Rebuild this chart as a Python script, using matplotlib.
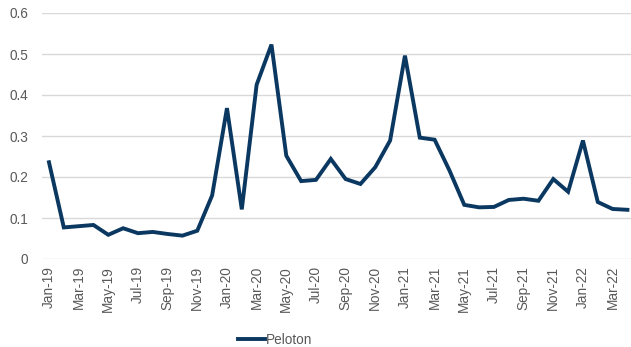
import matplotlib
matplotlib.use("Agg")
import matplotlib.pyplot as plt
import pandas as pd

# Monthly series, Jan-2019 to Apr-2022
months = pd.date_range("2019-01-01", "2022-04-01", freq="MS")
peloton = [
    0.236, 0.077, 0.080, 0.083, 0.059, 0.075, 0.063, 0.066, 0.061, 0.057, 0.069, 0.155,
    0.368, 0.121, 0.425, 0.523, 0.252, 0.190, 0.193, 0.244, 0.195, 0.183, 0.224, 0.289,
    0.496, 0.296, 0.291, 0.216, 0.132, 0.126, 0.127, 0.144, 0.147, 0.142, 0.195, 0.164,
    0.289, 0.139, 0.122, 0.120,
]
tick_labels = [m.strftime("%b-%y") for m in months]
y_ticks = [0, 0.1, 0.2, 0.3, 0.4, 0.5, 0.6]
y_tick_labels = ["0", "0.1", "0.2", "0.3", "0.4", "0.5", "0.6"]

plt.rcParams["font.family"] = ["Liberation Sans", "DejaVu Sans"]

fig = plt.figure(figsize=(6.31, 3.47), dpi=100)
ax = fig.add_axes([42 / 631, 1 - 259 / 347, 589 / 631, 246 / 347])

x = list(range(len(peloton)))
ax.plot(x, peloton, color="#0b3861", linewidth=2.8, solid_joinstyle="miter",
        label="Peloton")

ax.set_xlim(-0.47, 39.24)
ax.set_ylim(0, 0.6)
ax.set_yticks(y_ticks)
ax.set_yticklabels(y_tick_labels)
ax.set_xticks(x[::2])
ax.set_xticklabels(tick_labels[::2], rotation=90)

ax.grid(axis="y", color="#d9d9d9", linewidth=1.0)
ax.set_axisbelow(True)
for s in ax.spines.values():
    s.set_visible(False)
ax.tick_params(axis="both", length=0, colors="#595959", labelsize=9.8)
ax.tick_params(axis="y", pad=10)
ax.tick_params(axis="x", pad=5)

fig.legend(loc="lower center", bbox_to_anchor=(0.436, -0.035), frameon=False,
           fontsize=9.8, handlelength=2.0, handletextpad=0.1,
           labelcolor="#595959")

fig.savefig("out.png", dpi=100)
